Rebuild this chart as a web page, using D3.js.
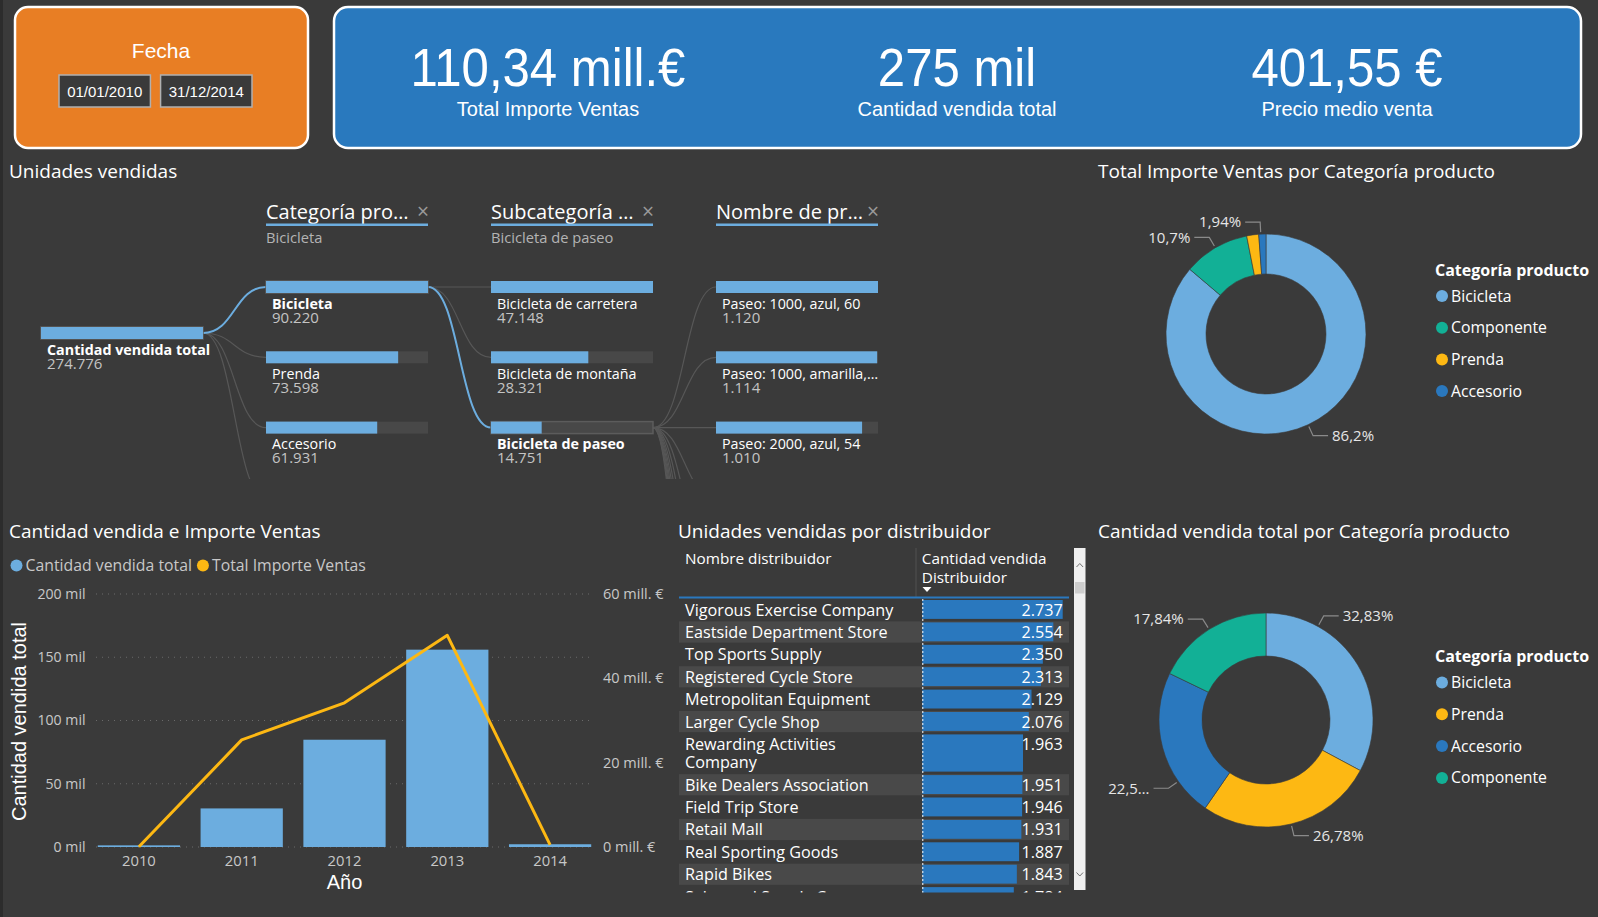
<!DOCTYPE html>
<html><head><meta charset="utf-8">
<script src="https://cdn.jsdelivr.net/npm/d3@7"></script>
<style>
html,body{margin:0;padding:0;background:#3a3a3a;overflow:hidden}
svg{display:block}
</style></head><body>
<svg id="c" width="1598" height="917"></svg>
<script>
// ---------------- DATA ----------------
const dateRange = ["01/01/2010", "31/12/2014"];
const kpiValues = ["110,34 mill.€", "275 mil", "401,55 €"];
const kpiLabels = ["Total Importe Ventas", "Cantidad vendida total", "Precio medio venta"];

const treeHeaders = ["Categoría pro…", "Subcategoría …", "Nombre de pr…"];
const treeSelections = ["Bicicleta", "Bicicleta de paseo", ""];
const rootLabel = "Cantidad vendida total";
const rootUnits = 274776;
const categoryNames = ["Bicicleta", "Prenda", "Accesorio", "Componente"];
const categoryUnits = [90220, 73598, 61931, 49027];
const subcatNames = ["Bicicleta de carretera", "Bicicleta de montaña", "Bicicleta de paseo"];
const subcatUnits = [47148, 28321, 14751];
const productNames = ["Paseo: 1000, azul, 60", "Paseo: 1000, amarilla, 60", "Paseo: 2000, azul, 54"];
const productUnits = [1120, 1114, 1010];
const hiddenProductNames = ["Paseo: 1000, azul, 46", "Paseo: 1000, azul, 50", "Paseo: 1000, azul, 54",
  "Paseo: 1000, amarilla, 46", "Paseo: 1000, amarilla, 50", "Paseo: 1000, amarilla, 54",
  "Paseo: 2000, azul, 46", "Paseo: 2000, azul, 50", "Paseo: 2000, azul, 60", "Paseo: 3000, azul, 44"];

const importeCats = ["Bicicleta", "Componente", "Prenda", "Accesorio"];
const importeShare = [86.2, 10.7, 1.94, 1.16];

const years = ["2010", "2011", "2012", "2013", "2014"];
const yearUnits = [1300, 30500, 84800, 156000, 2176];
const yearImporteMill = [0.04, 25.4, 34.2, 50.2, 0.5];
const leftTicks = [0, 50000, 100000, 150000, 200000];
const rightTicks = [0, 20, 40, 60];

const distNames = ["Vigorous Exercise Company", "Eastside Department Store", "Top Sports Supply",
  "Registered Cycle Store", "Metropolitan Equipment", "Larger Cycle Shop", "Rewarding Activities Company",
  "Bike Dealers Association", "Field Trip Store", "Retail Mall", "Real Sporting Goods", "Rapid Bikes",
  "Sales and Supply Company"];
const distUnits = [2737, 2554, 2350, 2313, 2129, 2076, 1963, 1951, 1946, 1931, 1887, 1843, 1784];

// ---------------- SETUP ----------------
const W = 1598, H = 917;
const svg = d3.select("#c");
const defs = svg.append("defs");
const F = "'Segoe UI','Open Sans',sans-serif";
const A = "'Liberation Sans',Arial,sans-serif";
const BG = "#3a3a3a";
const COL = {Bicicleta: "#6CADDF", Componente: "#12B096", Prenda: "#FDB813", Accesorio: "#2A78BE"};
const esNum = d3.formatLocale({decimal: ",", thousands: ".", grouping: [3], currency: ["", "€"]});
const fmtInt = esNum.format(",d");

function txt(g, x, y, s, o = {}) {
  const t = g.append("text").attr("x", x).attr("y", y).text(s)
    .attr("font-family", o.ff || F).attr("font-size", o.fs || 14).attr("fill", o.fill || "#fff");
  if (o.anchor) t.attr("text-anchor", o.anchor);
  if (o.fw) t.attr("font-weight", o.fw);
  if (o.dy) t.attr("dy", o.dy);
  return t;
}
function fitText(t, maxW) {
  let s = t.text();
  while (s.length > 1 && t.node().getComputedTextLength() > maxW) {
    s = s.slice(0, -1).trimEnd();
    t.text(s + "…");
  }
}

svg.append("rect").attr("width", W).attr("height", H).attr("fill", BG);
svg.append("rect").attr("width", 3).attr("height", H).attr("fill", "#2c2c2c");

// ---------------- HEADER CARDS ----------------
svg.append("rect").attr("x", 15).attr("y", 7).attr("width", 293).attr("height", 141).attr("rx", 13)
  .attr("fill", "#E87E24").attr("stroke", "#fff").attr("stroke-width", 2.5);
txt(svg, 161, 58, "Fecha", {ff: A, fs: 21, anchor: "middle"});
const dateX = d3.scaleBand().domain(d3.range(dateRange.length)).range([59, 252]).paddingInner(0.1);
dateRange.forEach((d, i) => {
  svg.append("rect").attr("x", dateX(i)).attr("y", 75).attr("width", dateX.bandwidth()).attr("height", 32)
    .attr("fill", "#3a3a3a").attr("stroke", "#b0b0b0").attr("stroke-width", 1.5);
  txt(svg, dateX(i) + dateX.bandwidth() / 2, 97, d, {ff: A, fs: 15, anchor: "middle"});
});

svg.append("rect").attr("x", 334).attr("y", 7).attr("width", 1247).attr("height", 141).attr("rx", 14)
  .attr("fill", "#2979BE").attr("stroke", "#fff").attr("stroke-width", 2.5);
const kpiX = [548, 957, 1347];
kpiValues.forEach((v, i) => {
  svg.append("text").attr("transform", `translate(${kpiX[i]},86) scale(0.91,1)`)
    .attr("text-anchor", "middle").attr("font-family", A).attr("font-size", 54).attr("fill", "#fff").text(v);
  txt(svg, kpiX[i], 116, kpiLabels[i], {ff: A, fs: 20, anchor: "middle"});
});

// ---------------- TITLES ----------------
const TFS = 19;
txt(svg, 9, 178, "Unidades vendidas", {fs: TFS});
txt(svg, 1098, 178, "Total Importe Ventas por Categoría producto", {fs: TFS});
txt(svg, 9, 538, "Cantidad vendida e Importe Ventas", {fs: TFS});
txt(svg, 678, 538, "Unidades vendidas por distribuidor", {fs: TFS});
txt(svg, 1098, 538, "Cantidad vendida total por Categoría producto", {fs: TFS});

// ---------------- DECOMPOSITION TREE ----------------
const clipBottom = 479;
defs.append("clipPath").attr("id", "treeClip").append("rect").attr("x", 0).attr("y", 190).attr("width", 1060).attr("height", clipBottom - 190);
const tree = svg.append("g").attr("clip-path", "url(#treeClip)");
const colX = [41, 266, 491, 716], barW = 162, barH = 12, rowTop = 281, rowStep = 70.3, rootTop = 327;
const rowY = i => rowTop + i * rowStep;
const link = d3.linkHorizontal();
const linkG = tree.append("g").attr("fill", "none");
function drawLinks(src, n, col, hi) {
  for (let i = 0; i < n; i++) {
    linkG.append("path").attr("d", link({source: src, target: [colX[col], rowY(i) + barH / 2]}))
      .attr("stroke", i === hi ? "#6CADDF" : "#575757").attr("stroke-width", i === hi ? 2 : 1.2);
  }
}
drawLinks([colX[0] + barW, rootTop + barH / 2], categoryNames.length, 1, 0);
drawLinks([colX[1] + barW, rowY(0) + barH / 2], subcatNames.length, 2, 2);
drawLinks([colX[2] + barW, rowY(2) + barH / 2], productNames.length + hiddenProductNames.length, 3, -1);
linkG.selectAll("path").filter(function () { return d3.select(this).attr("stroke") === "#6CADDF"; }).raise();

const NFS = 14.3, VFS = 15;
function drawBar(x, y, frac, selected) {
  tree.append("rect").attr("x", x).attr("y", y).attr("width", barW).attr("height", barH)
    .attr("fill", "#484848").attr("stroke", selected ? "#5c5c5c" : "none").attr("stroke-width", 1.5);
  tree.append("rect").attr("x", x).attr("y", y).attr("width", barW * frac).attr("height", barH).attr("fill", "#6CADDF");
}
function drawNode(x, y, name, value, frac, selected, maxW) {
  if (y > clipBottom) return; // outside the visible window of the visual
  drawBar(x, y, frac, selected);
  const t = txt(tree, x + 6, y + 27.5, name, {fs: NFS, fw: selected ? "bold" : null});
  fitText(t, maxW);
  txt(tree, x + 6, y + 41.5, fmtInt(value), {fs: VFS, fill: "#c4c4c4"});
}
drawNode(colX[0], rootTop, rootLabel, rootUnits, 1, true, 200);
const s1 = d3.scaleLinear().domain([0, d3.max(categoryUnits)]).range([0, 1]);
categoryNames.forEach((n, i) => drawNode(colX[1], rowY(i), n, categoryUnits[i], s1(categoryUnits[i]), n === treeSelections[0], barW - 2));
const s2 = d3.scaleLinear().domain([0, d3.max(subcatUnits)]).range([0, 1]);
subcatNames.forEach((n, i) => drawNode(colX[2], rowY(i), n, subcatUnits[i], s2(subcatUnits[i]), n === treeSelections[1], barW - 2));
const s3 = d3.scaleLinear().domain([0, d3.max(productUnits)]).range([0, 1]);
productNames.forEach((n, i) => drawNode(colX[3], rowY(i), n, productUnits[i], s3(productUnits[i]), false, barW - 2));

treeHeaders.forEach((h, i) => {
  const x = colX[i + 1];
  txt(svg, x, 219, h, {fs: 20});
  txt(svg, x + 157, 219, "×", {fs: 21, fill: "#9a9a9a", anchor: "middle"});
  svg.append("rect").attr("x", x).attr("y", 223.5).attr("width", barW).attr("height", 2.5).attr("fill", "#6CADDF");
  if (treeSelections[i]) txt(svg, x, 243, treeSelections[i], {fs: 14.7, fill: "#b4b4b4"});
});

// ---------------- DONUTS ----------------
function donut(cx, cy, rOut, rIn, names, values, labelText, angleOverride, minX) {
  const g = svg.append("g");
  const arcs = d3.pie().sort(null).value(d => d)(values);
  const arc = d3.arc().innerRadius(rIn).outerRadius(rOut);
  g.selectAll("path.s").data(arcs).join("path").attr("class", "s")
    .attr("transform", `translate(${cx},${cy})`).attr("d", arc)
    .attr("fill", (d, i) => COL[names[i]]).attr("stroke", BG).attr("stroke-width", 0.6);
  arcs.forEach((a, i) => {
    const lbl = labelText[i];
    if (!lbl) return;
    let ang = (a.startAngle + a.endAngle) / 2;
    if (angleOverride[names[i]] !== undefined) ang = angleOverride[names[i]] * Math.PI / 180;
    const pol = r => [cx + r * Math.sin(ang), cy - r * Math.cos(ang)];
    const p1 = pol(rOut + 2), p2 = pol(rOut + 12);
    const right = Math.sin(ang) >= 0;
    const p3 = [p2[0] + (right ? 15 : -15), p2[1]];
    g.append("path").attr("d", d3.line()([p1, p2, p3])).attr("fill", "none").attr("stroke", "#8a8a8a").attr("stroke-width", 1.2);
    const t = txt(g, p3[0] + (right ? 4 : -4), p3[1], lbl, {fs: 15, fill: "#e6e6e6", anchor: right ? "start" : "end", dy: "0.35em"});
    if (!right) {
      let s = lbl;
      while (s.length > 1 && p3[0] - 4 - t.node().getComputedTextLength() < minX) {
        s = s.slice(0, -1);
        t.text(s + "…");
      }
    }
  });
}
function legend(x, yTitle, names, step) {
  txt(svg, x, yTitle, "Categoría producto", {fs: 16, fw: "bold", dy: "0.35em"});
  names.forEach((n, i) => {
    const y = yTitle + 26 + i * step;
    svg.append("circle").attr("cx", x + 7).attr("cy", y).attr("r", 6).attr("fill", COL[n]);
    txt(svg, x + 16, y, n, {fs: 15.8, dy: "0.35em"});
  });
}
const fmtPct3 = v => d3.format(".3~r")(v).replace(".", ",") + "%";
donut(1266, 334, 100, 60, importeCats, importeShare,
  importeShare.map(v => v < 1.5 ? null : fmtPct3(v)), {Prenda: 357}, 1100);
legend(1435, 270, importeCats, 31.7);

const totU = d3.sum(categoryUnits);
donut(1266, 720, 107, 64, categoryNames, categoryUnits,
  categoryUnits.map(v => d3.format(".4r")(v / totU * 100).replace(".", ",") + "%"),
  {Bicicleta: 29, Accesorio: 235}, 1106);
legend(1435, 656.5, categoryNames, 31.8);

// ---------------- COMBO CHART ----------------
const combo = svg.append("g");
const yL = d3.scaleLinear().domain([0, 200000]).range([847, 594]);
const yR = d3.scaleLinear().domain([0, 60]).range([847, 594]);
const xB = d3.scaleBand().domain(years).range([87.5, 601.5]).paddingInner(0.2).paddingOuter(0.1);

combo.append("circle").attr("cx", 16.5).attr("cy", 565.5).attr("r", 6).attr("fill", "#6CADDF");
const lt1 = txt(combo, 25.5, 565.5, "Cantidad vendida total", {fs: 15.8, fill: "#c8c8c8", dy: "0.35em"});
const x2 = 25.5 + lt1.node().getComputedTextLength() + 11;
combo.append("circle").attr("cx", x2).attr("cy", 565.5).attr("r", 6).attr("fill", "#FDB813");
txt(combo, x2 + 9, 565.5, "Total Importe Ventas", {fs: 15.8, fill: "#c8c8c8", dy: "0.35em"});

leftTicks.forEach(t => {
  combo.append("line").attr("x1", 96).attr("x2", 594).attr("y1", yL(t)).attr("y2", yL(t))
    .attr("stroke", "#6a6a6a").attr("stroke-width", 1).attr("stroke-dasharray", "1,5");
  txt(combo, 85.5, yL(t), (t / 1000) + " mil", {fs: 14.1, fill: "#c8c8c8", anchor: "end", dy: "0.35em"});
});
rightTicks.forEach(t => {
  txt(combo, 603, yR(t), t + " mill. €", {fs: 14.5, fill: "#c8c8c8", dy: "0.35em"});
});
combo.selectAll("rect.b").data(years).join("rect").attr("class", "b")
  .attr("x", d => xB(d)).attr("width", xB.bandwidth())
  .attr("y", (d, i) => yL(yearUnits[i])).attr("height", (d, i) => yL(0) - yL(yearUnits[i]))
  .attr("fill", "#6CADDF");
combo.append("path").datum(years).attr("fill", "none").attr("stroke", "#FDB813").attr("stroke-width", 3)
  .attr("stroke-linejoin", "round")
  .attr("d", d3.line().x(d => xB(d) + xB.bandwidth() / 2).y((d, i) => yR(yearImporteMill[i])));
years.forEach(y => txt(combo, xB(y) + xB.bandwidth() / 2, 866, y, {fs: 14.8, fill: "#c8c8c8", anchor: "middle"}));
txt(combo, 344.5, 889, "Año", {ff: A, fs: 20, anchor: "middle"});
combo.append("text").attr("transform", "translate(25.5,721.5) rotate(-90)").attr("text-anchor", "middle")
  .attr("font-family", A).attr("font-size", 20).attr("fill", "#fff").text("Cantidad vendida total");

// ---------------- TABLE ----------------
const tbl = svg.append("g");
const nameX = 685, barX = 922.3, valX = 1062.7, rowLeft = 679, rowRight = 1069;
const bodyTop = 599, singleH = 22.4, extraLine = 18.3, TFS2 = 16.2, HFS = 15.3;
txt(tbl, nameX, 564, "Nombre distribuidor", {fs: HFS});
txt(tbl, barX - 0.5, 564, "Cantidad vendida", {fs: HFS});
txt(tbl, barX - 0.5, 583, "Distribuidor", {fs: HFS});
tbl.append("path").attr("d", "M922.5,587 l9,0 l-4.5,5 z").attr("fill", "#fff");
tbl.append("line").attr("x1", 916).attr("x2", 916).attr("y1", 548).attr("y2", 597).attr("stroke", "#505050");
tbl.append("rect").attr("x", rowLeft).attr("y", 596.5).attr("width", rowRight - rowLeft).attr("height", 2).attr("fill", "#2A78BE");

defs.append("clipPath").attr("id", "tblClip").append("rect").attr("x", 660).attr("y", 598.5).attr("width", 420).attr("height", 294);
const body = tbl.append("g").attr("clip-path", "url(#tblClip)");
const xT = d3.scaleLinear().domain([0, d3.max(distUnits)]).range([0, valX - barX]);
const meas = svg.append("text").attr("font-family", F).attr("font-size", TFS2);
function wrap(s, maxW) {
  const words = s.split(" "); const lines = []; let cur = "";
  words.forEach(w => {
    const test = cur ? cur + " " + w : w;
    meas.text(test);
    if (meas.node().getComputedTextLength() > maxW && cur) { lines.push(cur); cur = w; } else cur = test;
  });
  lines.push(cur); return lines;
}
let yCur = bodyTop;
distNames.forEach((n, i) => {
  const lines = wrap(n, 226);
  const h = singleH + (lines.length - 1) * extraLine;
  if (yCur > 892.5) return;
  if (i % 2 === 1) body.append("rect").attr("x", rowLeft).attr("y", yCur).attr("width", rowRight - rowLeft).attr("height", h - 1.2).attr("fill", "#494949");
  body.append("rect").attr("x", barX).attr("y", yCur + 1).attr("width", xT(distUnits[i])).attr("height", h - 3.5).attr("fill", "#2A78BE");
  lines.forEach((l, k) => txt(body, nameX, yCur + 16.5 + k * extraLine, l, {fs: TFS2}));
  txt(body, valX, yCur + 16.5, fmtInt(distUnits[i]), {fs: TFS2, anchor: "end"});
  yCur += h;
});
meas.remove();
body.append("line").attr("x1", barX + 0.5).attr("x2", barX + 0.5).attr("y1", bodyTop).attr("y2", 893)
  .attr("stroke", "#fff").attr("stroke-width", 1).attr("stroke-dasharray", "2,2");

tbl.append("rect").attr("x", 1074).attr("y", 548).attr("width", 11.5).attr("height", 342).attr("fill", "#efefef");
tbl.append("rect").attr("x", 1075).attr("y", 582).attr("width", 9.5).attr("height", 11.5).attr("fill", "#cdcdcd");
tbl.append("path").attr("d", "M1076.5,567 l3.3,-3.5 l3.3,3.5").attr("fill", "none").attr("stroke", "#707070").attr("stroke-width", 1);
tbl.append("path").attr("d", "M1076.5,872.5 l3.3,3.5 l3.3,-3.5").attr("fill", "none").attr("stroke", "#707070").attr("stroke-width", 1);
</script></body></html>
